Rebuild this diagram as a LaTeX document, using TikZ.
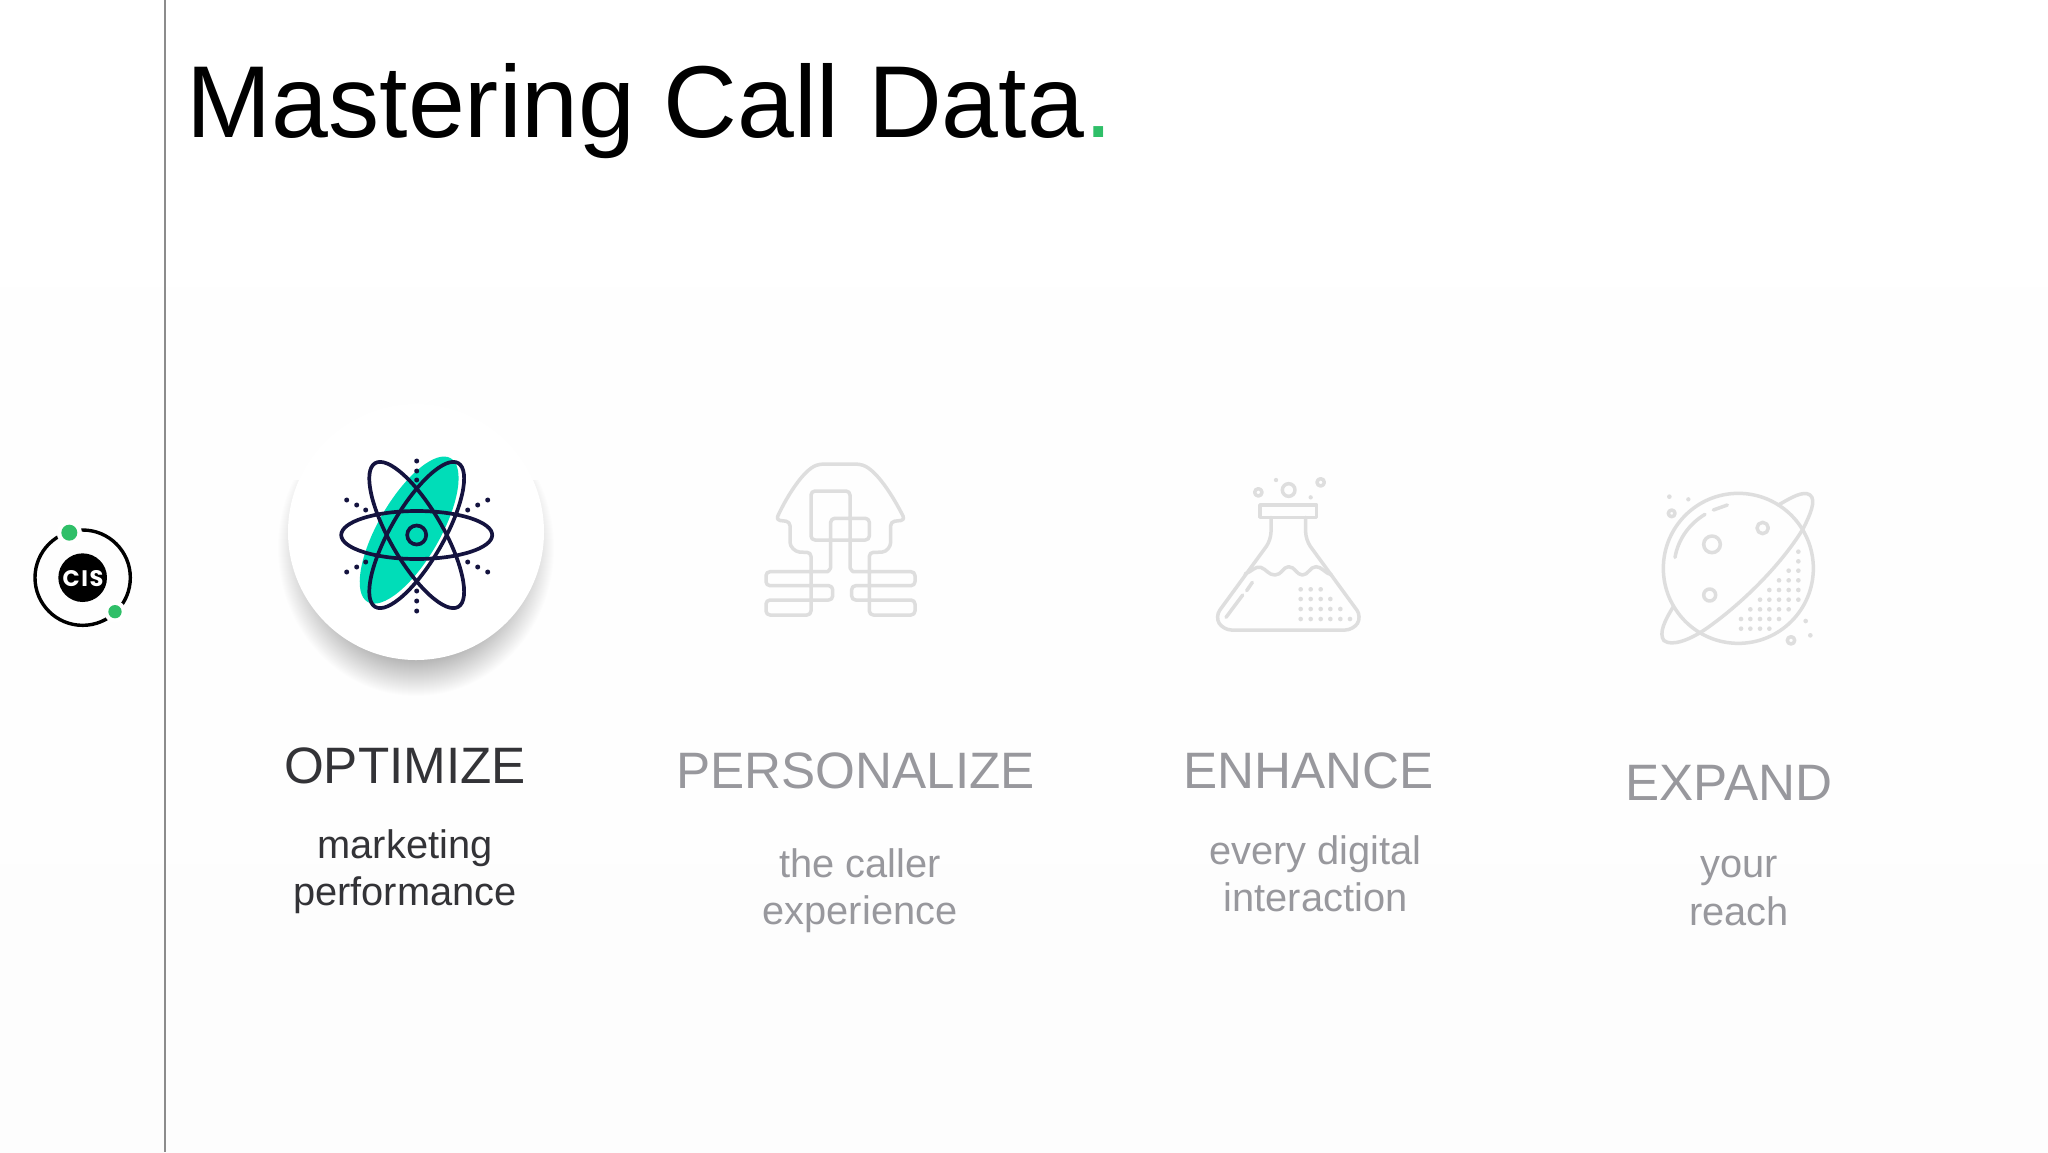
\documentclass[tikz,border=0pt]{standalone}
\usepackage{fontspec}
\setmainfont{Liberation Sans}
\newfontfamily\logofont[LetterSpace=7]{Poppins}
\definecolor{dgreen}{HTML}{2FBF68}
\definecolor{navy}{HTML}{14133F}
\definecolor{teal0}{HTML}{00DDB8}
\definecolor{faint}{HTML}{DEDEDE}
\definecolor{greytext}{HTML}{98989D}
\definecolor{darktext}{HTML}{333337}
\definecolor{paper}{HTML}{FDFDFD}
\tikzset{x=1pt,y=-1pt,
  headtext/.style={anchor=base,inner sep=0pt,font=\fontsize{51.2}{51.2}\selectfont},
  subtext/.style={anchor=base,inner sep=0pt,font=\fontsize{39.8}{39.8}\selectfont},
  ghost/.style={draw=faint,line width=3.5pt,line join=round,line cap=round},
  atomline/.style={draw=navy,line width=3.7pt}
}
\begin{document}
\begin{tikzpicture}
\useasboundingbox (0,0) rectangle (2048,1152);
\shade[top color=white,bottom color=paper] (0,0) rectangle (2048,1152);
\coordinate (ruleTop) at (165,0);
\coordinate (ruleBot) at (165,1152);
\draw[line width=2.2pt,draw=black!45] (ruleTop) -- (ruleBot);

% title
\node[anchor=base west,inner sep=0pt,font=\fontsize{102.2}{102.2}\selectfont] (title) at (186.5,137) {Mastering Call Data\textcolor{dgreen}{.}};

% logo
\begin{scope}[shift={(20,510)},scale=1/3]
  \draw[line width=3.4pt,black] (188,203) circle[radius=143];
  \fill[black] (188,203) circle[radius=73];
  \fill[white] (148,68) circle[radius=38];
  \fill[white] (285,305) circle[radius=33];
  \fill[dgreen] (148,68) circle[radius=24];
  \fill[dgreen] (285,305) circle[radius=20];
  \node[text=white,inner sep=0pt,font=\logofont\bfseries\fontsize{22.5}{22.5}\selectfont] (cis) at (189,205) {CIS};
\end{scope}

% atom card
\begin{scope}
  \clip (250,480) rectangle (580,720);
  \foreach \r in {0,1,...,40}{
    \fill[black,opacity=0.006] (416,548) ellipse[x radius=98+\r,y radius=108+\r];
  }
\end{scope}
\fill[white] (416,532) circle[radius=128];
\begin{scope}[shift={(416.7,535)}]
  \fill[teal0,rotate=60] (0.5,-9) ellipse[x radius=83,y radius=31];
  \draw[atomline] (0,0) ellipse[x radius=75.5,y radius=24];
  \draw[atomline,rotate=60] (0,0) ellipse[x radius=83,y radius=26.5];
  \draw[atomline,rotate=-60] (0,0) ellipse[x radius=83,y radius=26.5];
  \draw[atomline] (0,0) circle[radius=9.5];
  \foreach \a/\b in {0/-74,0/-64,0/-55,0/56,0/66,0/76,
    -70/-35,-60/-30,-51/-25,51/-25,61/-30,71/-35,
    -70/37,-60/32,-51/27,51/27,61/32,71/37}{
    \fill[navy] (\a,\b) circle[radius=2.5];
  }
\end{scope}

% head icon
\begin{scope}[shift={(740,440)},scale=1/3]
  \draw[ghost,rounded corners=4pt] (78,395) -- (250,395) .. controls (265,395) and (272,385) .. (272,370) -- (272,235) -- (388,235) -- (388,300) -- (213,300) -- (213,153) -- (330,153) -- (330,370) .. controls (330,385) and (337,395) .. (352,395) -- (525,395) -- (525,437) -- (335,437) -- (335,480) -- (525,480) -- (525,525) -- (388,525) -- (388,337) -- (415,337) .. controls (440,335) and (452,320) .. (452,295) -- (452,245) -- (495,240) .. controls (460,170) and (410,90) .. (358,72) -- (240,72) .. controls (190,90) and (140,170) .. (108,240) -- (150,245) -- (150,295) .. controls (150,320) and (165,335) .. (190,337) -- (213,337) -- (213,525) -- (78,525) -- (78,480) -- (278,480) -- (278,437) -- (78,437) -- cycle;
\end{scope}

% flask icon
\begin{scope}[shift={(1190,460)},scale=1/3]
  \draw[ghost] (210,135) rectangle (380,172);
  \draw[ghost,rounded corners=8pt] (243,172) -- (243,240) -- (75,470) -- (100,510) -- (490,510) -- (515,470) -- (347,240) -- (347,172);
  \draw[ghost] (165,342) .. controls (185,335) and (195,318) .. (212,322) .. controls (230,328) and (235,345) .. (255,345) .. controls (275,345) and (280,320) .. (296,320) .. controls (315,320) and (320,345) .. (337,345) .. controls (355,345) and (360,320) .. (378,320) .. controls (395,320) and (405,340) .. (425,345);
  \draw[ghost] (108,472) -- (158,405);
  \draw[ghost] (170,392) -- (187,367);
  \draw[ghost] (205,97) circle[radius=11];
  \draw[ghost] (296,90) circle[radius=19];
  \draw[ghost] (392,67) circle[radius=11];
  \fill[faint] (258,60) circle[radius=6.5] (362,112) circle[radius=6.5];
  \foreach \y/\xs in {388/{332,362,392},417/{332,362,392,421},447/{332,362,392,421,451},477/{332,362,392,421,451,480}}{
    \foreach \x in \xs { \fill[faint] (\x,\y) circle[radius=7]; }
  }
\end{scope}

% planet icon
\begin{scope}[shift={(1640,480)},scale=1/3]
  \draw[ghost] (295,265) circle[radius=225];
  \draw[ghost] (100,380) .. controls (75,420) and (55,460) .. (72,482) .. controls (95,500) and (150,480) .. (200,445) .. controls (300,375) and (420,260) .. (490,145) .. controls (510,105) and (530,60) .. (510,45) .. controls (490,30) and (450,55) .. (415,75);
  \draw[ghost] (105,232) .. controls (115,175) and (150,130) .. (195,103);
  \draw[ghost] (220,90) -- (262,75);
  \draw[ghost] (216,193) circle[radius=25];
  \draw[ghost] (368,144) circle[radius=17];
  \draw[ghost] (209,345) circle[radius=18];
  \draw[ghost] (95,100) circle[radius=10];
  \draw[ghost] (453,481) circle[radius=11];
  \fill[faint] (88,50) circle[radius=7] (145,58) circle[radius=6.5] (497,423) circle[radius=7] (511,466) circle[radius=7];
  \foreach \y/\xs in {215/{475},244/{475},272/{446,475},301/{417,446,475},330/{388,417,446,475},359/{360,388,417,446,475},388/{331,360,388,417,446},417/{303,331,360,388,417},446/{303,331,360,388}}{
    \foreach \x in \xs { \fill[faint] (\x,\y) circle[radius=7]; }
  }
\end{scope}

% labels
\node[headtext,text=darktext] (h1) at (405,783) {OPTIMIZE};
\node[subtext,text=darktext] (s1a) at (405,858) {marketing};
\node[subtext,text=darktext] (s1b) at (405,905.5) {performance};

\node[headtext,text=greytext] (h2) at (855.5,788) {PERSONALIZE};
\node[subtext,text=greytext] (s2a) at (860,877) {the caller};
\node[subtext,text=greytext] (s2b) at (860,924) {experience};

\node[headtext,text=greytext] (h3) at (1308.5,788) {ENHANCE};
\node[subtext,text=greytext] (s3a) at (1315.5,864) {every digital};
\node[subtext,text=greytext] (s3b) at (1315.5,911) {interaction};

\node[headtext,text=greytext] (h4) at (1729,800) {EXPAND};
\node[subtext,text=greytext] (s4a) at (1739,877) {your};
\node[subtext,text=greytext] (s4b) at (1739,925) {reach};
\end{tikzpicture}
\end{document}
